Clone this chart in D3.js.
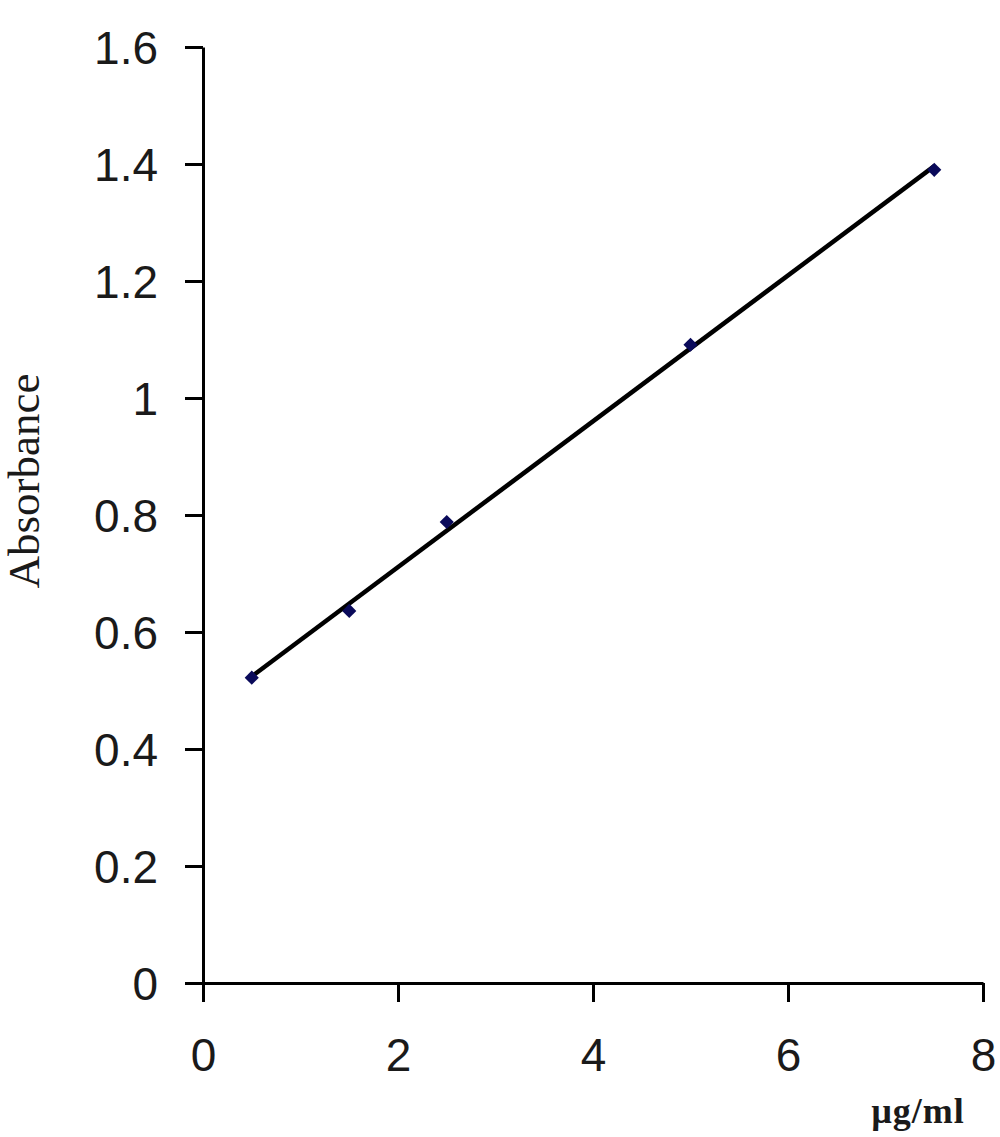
<!DOCTYPE html>
<html><head><meta charset="utf-8">
<script src="https://cdn.jsdelivr.net/npm/d3@7"></script>
<style>body{margin:0;background:#fff}</style>
</head><body>
<svg id="c" width="1000" height="1137"></svg>
<script>
const concentrations = [0.5, 1.5, 2.5, 5, 7.5];
const absorbance = [0.522, 0.636, 0.788, 1.091, 1.39];
const xTicks = [0, 2, 4, 6, 8];
const yTicks = [0, 0.2, 0.4, 0.6, 0.8, 1, 1.2, 1.4, 1.6];

const svg = d3.select("#c");
const x = d3.scaleLinear().domain([0, 8]).range([203, 983]);
const y = d3.scaleLinear().domain([0, 1.6]).range([983, 47]);

// axes
const xa = svg.append("g").attr("transform", "translate(0,983)")
  .call(d3.axisBottom(x).tickValues(xTicks).tickFormat(d3.format("d")).tickSizeInner(19).tickSizeOuter(0).tickPadding(36));
const ya = svg.append("g").attr("transform", "translate(203,0)")
  .call(d3.axisLeft(y).tickValues(yTicks).tickFormat(d => d === 0 || d === 1 ? String(d) : d3.format(".1f")(d)).tickSizeInner(18).tickSizeOuter(0).tickPadding(27));
[xa, ya].forEach(a => {
  a.select(".domain").attr("stroke", "#000").attr("stroke-width", 3);
  a.selectAll(".tick line").attr("stroke", "#000").attr("stroke-width", 3);
  a.selectAll(".tick text").attr("fill", "#1a1a1a").style("font-family", "'Liberation Sans', Arial, sans-serif").style("font-size", "46px");
});
xa.selectAll(".tick text").attr("dy", "0.71em");
ya.selectAll(".tick text").attr("dy", "0.36em");

// linear regression trendline
const n = concentrations.length;
const mx = d3.mean(concentrations), my = d3.mean(absorbance);
let sxy = 0, sxx = 0;
for (let i = 0; i < n; i++) { sxy += (concentrations[i]-mx)*(absorbance[i]-my); sxx += (concentrations[i]-mx)**2; }
const slope = sxy / sxx, icpt = my - slope * mx;
const ext = d3.extent(concentrations);
svg.append("path")
  .datum(ext.map(v => [v, icpt + slope * v]))
  .attr("d", d3.line().x(d => x(d[0])).y(d => y(d[1])))
  .attr("stroke", "#000").attr("stroke-width", 4.5).attr("fill", "none");

// markers
svg.append("g").selectAll("path").data(concentrations.map((c, i) => [c, absorbance[i]]))
  .join("path")
  .attr("transform", d => `translate(${x(d[0])},${y(d[1])}) rotate(45)`)
  .attr("d", d3.symbol(d3.symbolSquare, 100))
  .attr("fill", "#0a0a5a");

// axis titles
svg.append("text").attr("transform", "translate(39,481) rotate(-90)")
  .attr("text-anchor", "middle")
  .style("font-family", "'Liberation Serif', 'Times New Roman', serif").style("font-size", "45px")
  .attr("fill", "#1a1a1a").text("Absorbance");
svg.append("text").attr("x", 918).attr("y", 1123)
  .attr("text-anchor", "middle")
  .style("font-family", "'Liberation Serif', 'Times New Roman', serif").style("font-size", "36px").style("font-weight", "bold")
  .style("letter-spacing", "1px")
  .attr("fill", "#1a1a1a").text("µg/ml");
</script>
</body></html>
